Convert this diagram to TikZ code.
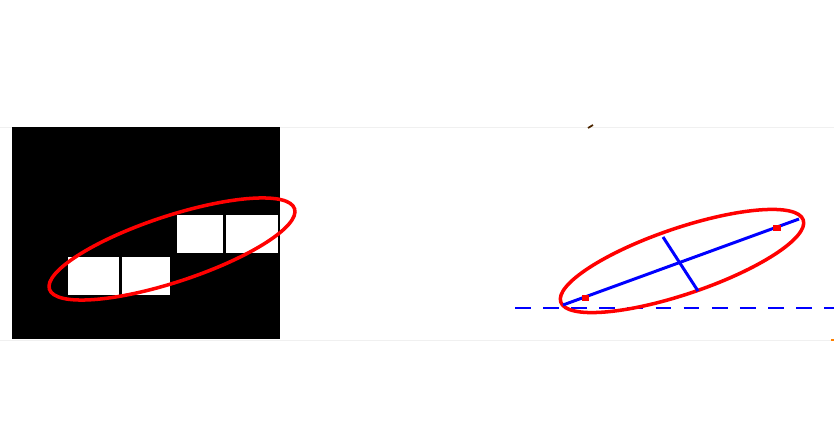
\documentclass[tikz,border=0pt]{standalone}
\usepackage{tikz}

\tikzset{
  fitring/.style={draw=red, line width=2pt},
  axisline/.style={draw=blue, line width=1.7pt},
  pixel/.style={fill=white, draw=black, line width=1pt}
}

\begin{document}
\begin{tikzpicture}[x=0.02cm, y=-0.02cm]
\useasboundingbox (0,0) rectangle (834,445);
% faint frame lines
\draw[gray!12] (0,127)--(834,127);
\draw[gray!12] (0,340)--(834,340);
% left: binary image
\fill[black] (12,127) rectangle (280,339);
\draw[pixel] (67,256) rectangle (120,296);
\draw[pixel] (121,256) rectangle (171,296);
\draw[pixel] (176,214) rectangle (224,254);
\draw[pixel] (225,214) rectangle (279,254);
\draw[fitring, rotate around={18.2:(172,249)}] (172,249) ellipse [x radius=129, y radius=33];
% right: fitted ellipse with axes
\coordinate (c) at (682,262);
\coordinate (majA) at (563,305);
\coordinate (majB) at (799,219);
\coordinate (minA) at (663,237);
\coordinate (minB) at (698,291);
\draw[blue, line width=1.3pt, dashed, dash pattern=on 9pt off 7pt] (515,308)--(834,308);
\draw[fitring, rotate around={18.7:(682,261)}] (682,261) ellipse [x radius=128, y radius=33];
\draw[axisline] (majA)--(majB);
\draw[axisline] (minA)--(minB);
\fill[red] (582,295) rectangle (589,301);
\fill[red] (773,225) rectangle (781,231);
% small marks
\draw[black!70!orange, line width=1pt] (588,128)--(593,125);
\draw[orange, line width=1pt] (831,340)--(834,340);
\end{tikzpicture}
\end{document}
